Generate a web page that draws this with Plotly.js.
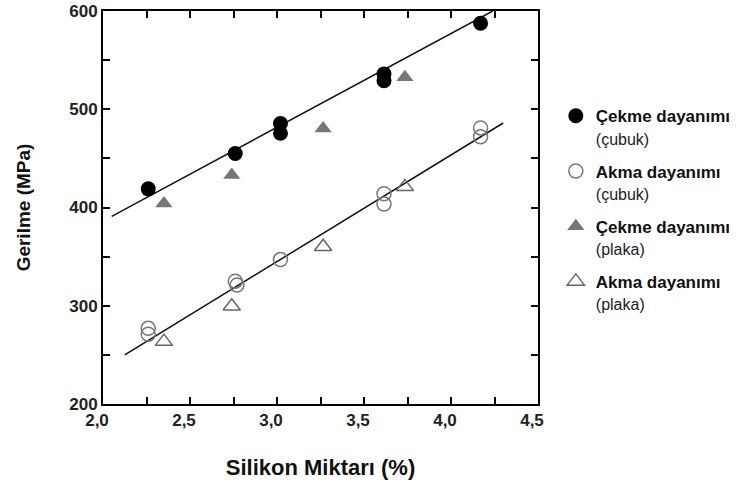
<!DOCTYPE html>
<html>
<head>
<meta charset="utf-8">
<script src="https://cdn.plot.ly/plotly-3.0.1.min.js"></script>
<style>html,body{margin:0;padding:0;background:#fff;}#chart{width:747px;height:487px;}</style>
</head>
<body>
<div id="chart"></div>
<script>
// Data
const cekmeCubukX = [2.26, 2.76, 3.02, 3.02, 3.615, 3.615, 4.17];
const cekmeCubukY = [419, 455, 485.5, 475.5, 536, 529, 587.5];
const akmaCubukX = [2.26, 2.26, 2.76, 2.77, 3.02, 3.615, 3.615, 4.17, 4.17];
const akmaCubukY = [277, 271, 325, 321, 347, 414, 403.5, 481, 472];
const cekmePlakaX = [2.35, 2.74, 3.265, 3.735];
const cekmePlakaY = [404, 433, 480.5, 532.5];
const akmaPlakaX = [2.35, 2.74, 3.265, 3.735];
const akmaPlakaY = [263.5, 299.5, 360, 421];
const fitCekmeX = [2.05, 4.24];
const fitCekmeY = [391, 600];
const fitAkmaX = [2.125, 4.30];
const fitAkmaY = [250, 486];
const sub = "<span style='font-size:16px;font-weight:normal;color:#222'>";
const legendNames = [
  "<b>Çekme dayanımı</b><br>" + sub + "(çubuk)</span>",
  "<b>Akma dayanımı</b><br>" + sub + "(çubuk)</span>",
  "<b>Çekme dayanımı</b><br>" + sub + "(plaka)</span>",
  "<b>Akma dayanımı</b><br>" + sub + "(plaka)</span>"
];
const xTitle = "Silikon Miktarı (%)";
const yTitle = "Gerilme (MPa)";

const traces = [
  {x: fitCekmeX, y: fitCekmeY, mode: 'lines', line: {color: '#111', width: 1.5}, showlegend: false, hoverinfo: 'skip'},
  {x: fitAkmaX, y: fitAkmaY, mode: 'lines', line: {color: '#111', width: 1.5}, showlegend: false, hoverinfo: 'skip'},
  {x: cekmeCubukX, y: cekmeCubukY, mode: 'markers', name: legendNames[0], legendgroup: 'a',
   marker: {symbol: 'circle', size: 15, color: '#000', line: {width: 0}}},
  {x: akmaCubukX, y: akmaCubukY, mode: 'markers', name: legendNames[1], legendgroup: 'b',
   marker: {symbol: 'circle-open', size: 14, color: '#777', line: {width: 1.5}}},
  {x: cekmePlakaX, y: cekmePlakaY, mode: 'markers', name: legendNames[2], legendgroup: 'c',
   marker: {symbol: 'triangle-up', size: 15, color: '#777', line: {width: 0}}},
  {x: akmaPlakaX, y: akmaPlakaY, mode: 'markers', name: legendNames[3], legendgroup: 'd',
   marker: {symbol: 'triangle-up-open', size: 15, color: '#666', line: {width: 1.5}}}
];

const tickFont = {size: 17, family: 'Liberation Sans, Arial, sans-serif', color: '#222', weight: 'bold'};

const layout = {
  width: 747, height: 487,
  margin: {l: 103, r: 205, t: 11, b: 83},
  paper_bgcolor: '#fff', plot_bgcolor: '#fff',
  separators: ', ',
  font: {family: 'Liberation Sans, Arial, sans-serif', color: '#111'},
  xaxis: {
    range: [2.0, 4.5], dtick: 0.5, tick0: 2.0, tickformat: '.1f',
    showgrid: false, zeroline: false, automargin: false,
    showline: true, linecolor: '#000', linewidth: 2, mirror: 'allticks',
    ticks: 'inside', ticklen: 7, tickwidth: 2, tickcolor: 'black',
    minor: {dtick: 0.25, ticks: 'inside', ticklen: 7, tickwidth: 2, tickcolor: 'black', showgrid: false},
    tickfont: tickFont,
    ticklabelshift: -6,
    title: {text: '<b>' + xTitle + '</b>', font: {size: 22, color: '#111'}, standoff: 30}
  },
  yaxis: {
    range: [200, 600], dtick: 100, tick0: 200,
    showgrid: false, zeroline: false, automargin: false,
    showline: true, linecolor: '#000', linewidth: 2, mirror: 'allticks',
    ticks: 'inside', ticklen: 7, tickwidth: 2, tickcolor: 'black',
    minor: {dtick: 50, ticks: 'inside', ticklen: 7, tickwidth: 2, tickcolor: 'black', showgrid: false},
    tickfont: tickFont,
    title: {text: '<b>' + yTitle + '</b>', font: {size: 19, color: '#111'}, standoff: 34}
  },
  legend: {
    x: 1.041, y: 0.778, xanchor: 'left', yanchor: 'top',
    bgcolor: 'rgba(0,0,0,0)', borderwidth: 0,
    tracegrouporder: 'normal', tracegroupgap: 8, valign: 'top',
    font: {size: 17, color: '#111', family: 'Liberation Sans, Arial, sans-serif'}
  },
  showlegend: true
};

Plotly.newPlot('chart', traces, layout, {displayModeBar: false, staticPlot: true});
</script>
</body>
</html>
